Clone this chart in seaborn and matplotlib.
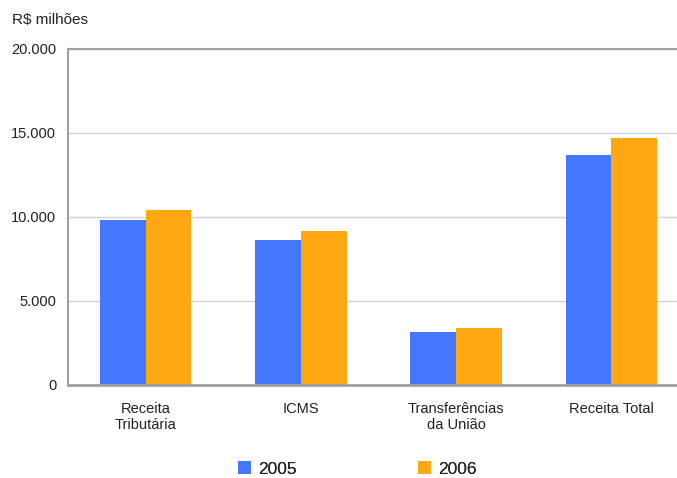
import pandas as pd
import matplotlib.pyplot as plt
import matplotlib.ticker as mticker
from matplotlib.patches import Patch
import seaborn as sns

# dados (R$ milhões)
categorias = ["Receita\nTributária", "ICMS", "Transferências\nda União", "Receita Total"]
valores_2005 = [9820, 8630, 3150, 13690]
valores_2006 = [10420, 9170, 3390, 14700]
anos = ["2005", "2006"]
cores = ["#4477FF", "#FFA811"]

df = pd.DataFrame({
    "categoria": categorias * 2,
    "valor": valores_2005 + valores_2006,
    "ano": [anos[0]] * 4 + [anos[1]] * 4,
})

sns.set_style("white")
plt.rcParams["font.family"] = ["Liberation Sans", "DejaVu Sans"]

fig = plt.figure(figsize=(6.77, 4.78), dpi=100)
ax = fig.add_axes([68 / 677, 93 / 478, 621 / 677, 336 / 478])

sns.barplot(data=df, x="categoria", y="valor", hue="ano", palette=cores,
            width=0.59, gap=0, saturation=1, linewidth=0, ax=ax, legend=False)

ax.set_xlim(-0.5, 3.5)
ax.set_ylim(0, 20000)
ax.set_yticks([0, 5000, 10000, 15000, 20000])
ax.yaxis.set_major_formatter(mticker.FuncFormatter(lambda v, p: f"{int(v):,}".replace(",", ".")))
ax.grid(axis="y", color="#d0d0d0", linewidth=1)
ax.set_axisbelow(True)

ax.set_xticks(range(4))
ax.set_xticks([-0.5, 0.5, 1.5, 2.5, 3.5], minor=True)
ax.tick_params(axis="x", which="major", length=0, pad=12, labelsize=10.5, colors="#222222")
ax.tick_params(axis="x", which="minor", length=5, width=1, direction="out", color="#555555")
ax.tick_params(axis="y", length=5, width=1, direction="out", color="#555555", labelsize=10.5, labelcolor="#222222")
ax.set_xlabel("")
ax.set_ylabel("")

for s in ["left", "top", "bottom", "right"]:
    ax.spines[s].set_color("#a0a0a0")
    ax.spines[s].set_linewidth(1.5)
ax.spines["bottom"].set_linewidth(2)

fig.text(12 / 677, 1 - 20 / 478, "R$ milhões", fontsize=11, va="center", ha="left", color="#222222")

# legenda (uma por ano)
for ano, cor, x0 in zip(anos, cores, [238, 418]):
    leg = fig.legend([Patch(facecolor=cor, edgecolor="none")], [ano], loc="center left",
                     bbox_to_anchor=(x0 / 677, 1 - 469 / 478), frameon=False, fontsize=12.5,
                     handlelength=0.75, handleheight=0.75, handletextpad=0.4, borderpad=0,
                     borderaxespad=0)
    fig.add_artist(leg)

fig.savefig("out.png", dpi=100)
